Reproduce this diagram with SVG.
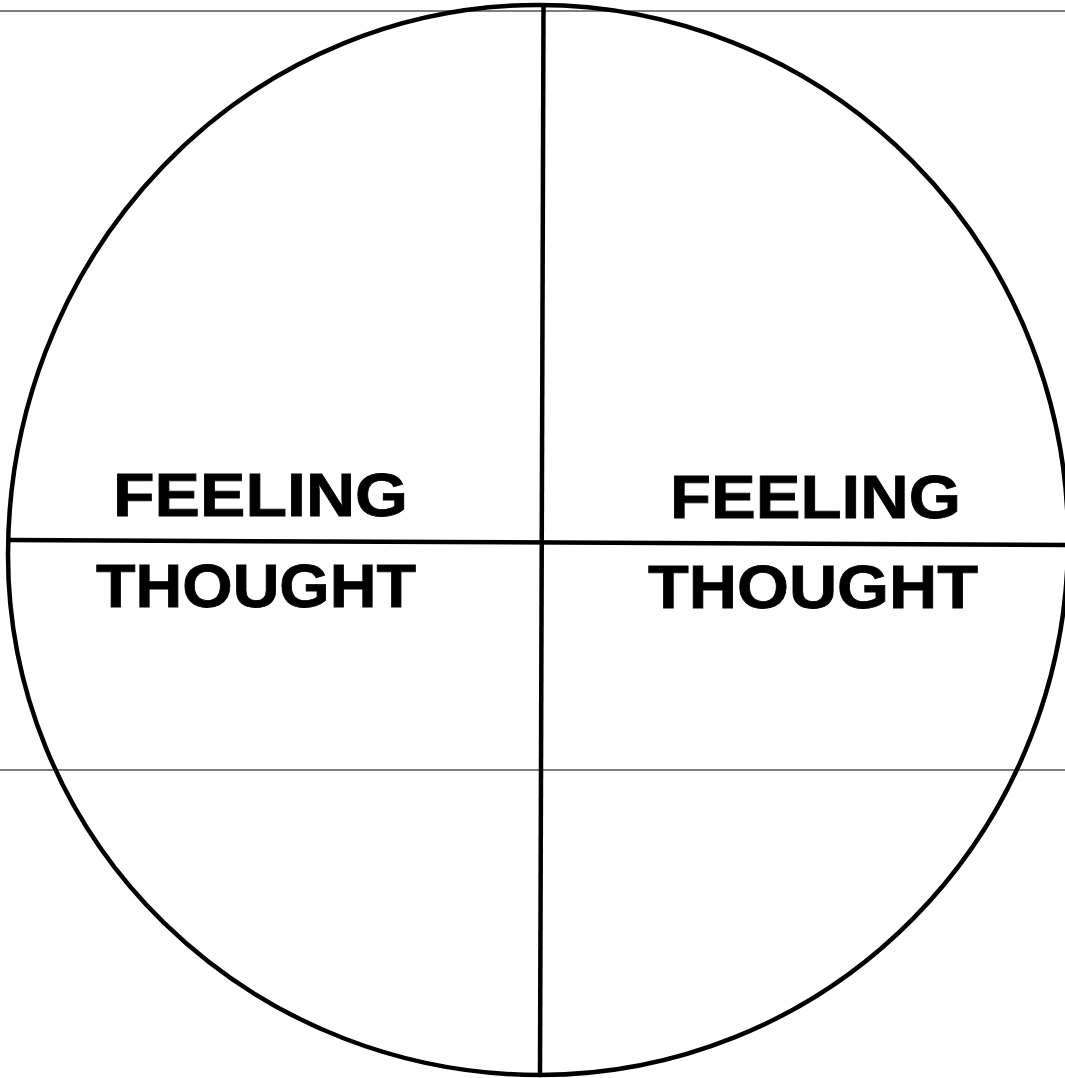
<svg xmlns="http://www.w3.org/2000/svg" width="1065" height="1078" viewBox="0 0 1065 1078">
<style>
.lbl{font-family:"Liberation Sans",Arial,sans-serif;font-weight:bold;font-size:61px;fill:#000;stroke:#000;stroke-width:0.8}
.rule{stroke:#555;stroke-width:1.3;fill:none}
.heavy{stroke:#000;stroke-width:4.5;fill:none}
</style>
<rect width="1065" height="1078" fill="#fff"/>
<g id="guides">
<line class="rule" x1="0" y1="11" x2="1065" y2="11"/>
<line class="rule" x1="0" y1="770" x2="1065" y2="770"/>
</g>
<g id="circle">
<path class="heavy" d="M 8 555 A 530 550 0 0 1 538 5 A 530 535 0 0 1 1068 540 A 528 535 0 0 1 540 1075 A 532 520 0 0 1 8 555 Z"/>
</g>
<g id="connectors">
<line class="heavy" x1="543.5" y1="6" x2="540" y2="1075"/>
<line class="heavy" x1="9" y1="540" x2="1065" y2="545"/>
</g>
<g id="left">
<text class="lbl" x="113" y="516" textLength="295" lengthAdjust="spacingAndGlyphs">FEELING</text>
<text class="lbl" x="96" y="607" textLength="320" lengthAdjust="spacingAndGlyphs">THOUGHT</text>
</g>
<g id="right">
<text class="lbl" x="670" y="518" textLength="291" lengthAdjust="spacingAndGlyphs">FEELING</text>
<text class="lbl" x="648" y="608" textLength="330" lengthAdjust="spacingAndGlyphs">THOUGHT</text>
</g>
</svg>
